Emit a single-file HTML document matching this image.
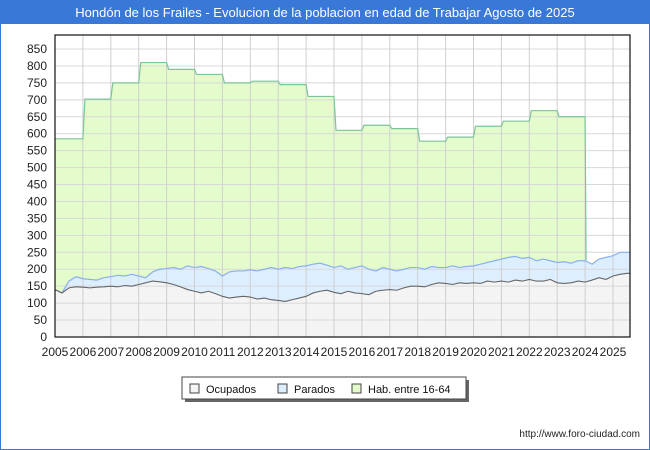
<!DOCTYPE html>
<html><head><meta charset="utf-8"><style>
body{margin:0;background:#fff;font-family:"Liberation Sans","DejaVu Sans",sans-serif}
#wrap{position:relative;width:648px;height:448px;border:1px solid #3a78d8;overflow:hidden}
#title{height:23px;background:#3a78d8;color:#fff;font-size:13px;text-align:center;line-height:23px}
svg{position:absolute;left:-1px;top:-1px}
</style></head><body>
<div id="wrap">
<div id="title">Hondón de los Frailes - Evolucion de la poblacion en edad de Trabajar Agosto de 2025</div>
<svg id="chart" width="650" height="450"></svg>
</div>
<script>
const years=[2005,2006,2007,2008,2009,2010,2011,2012,2013,2014,2015,2016,2017,2018,2019,2020,2021,2022,2023,2024,2025];
const habValues=[585,702,750,810,790,775,750,755,745,710,610,625,615,578,590,622,637,668,650];
const totalValues=[140,130,165,178,172,170,168,175,178,182,180,185,180,175,192,200,202,205,200,210,205,208,202,195,180,192,195,195,198,195,200,205,200,205,202,208,210,215,218,212,205,210,200,205,210,200,195,205,200,195,200,205,205,200,208,205,205,210,205,208,210,215,220,225,230,235,238,232,235,225,230,225,220,222,218,225,225,215,230,235,240,250,250];
const ocupValues=[140,130,145,148,147,145,147,148,150,148,152,150,155,160,165,163,160,155,148,140,135,130,135,128,120,115,118,120,118,112,115,110,108,105,110,115,120,130,135,138,132,128,135,130,128,125,135,138,140,138,145,150,150,148,155,160,158,155,160,158,160,158,165,162,165,162,168,165,170,165,165,170,160,158,160,165,162,168,175,170,180,185,188];
const yTicks=[0,50,100,150,200,250,300,350,400,450,500,550,600,650,700,750,800,850];
const L=55,R=630,T=35,B=337;
const X=t=>L+(t-2005)*27.9;
const Y=v=>B-v*0.3388;
const svg=document.getElementById('chart');
const NS='http://www.w3.org/2000/svg';
function mk(tag,attrs,parent){const e=document.createElementNS(NS,tag);for(const k in attrs)e.setAttribute(k,attrs[k]);(parent||svg).appendChild(e);return e;}
const bg=mk('rect',{x:L,y:T,width:R-L,height:B-T,fill:'#fff'});


const tt=i=>2005+i*0.25;
// hab area
let hp=[];
habValues.forEach((v,i)=>{const x0=X(years[i])+(i?2:0),x1=X(years[i+1]);hp.push([x0,Y(v)],[x1,Y(v)]);});
const endT=years[habValues.length];
let idx=Math.round((endT-2005)/0.25);
hp.push([X(endT)+1,Y(totalValues[idx])]);
const habPath='M'+X(2005)+','+B+' '+hp.map(p=>'L'+p[0]+','+p[1]).join(' ')+' L'+(X(endT)+1)+','+B+' Z';
const ha=mk('path',{d:habPath,fill:'#e4fccc',stroke:'none'});


const tp=totalValues.map((v,i)=>[X(tt(i)),Y(v)]);
const op=ocupValues.map((v,i)=>[X(tt(i)),Y(v)]);
const ta=mk('path',{d:'M'+tp[0][0]+','+B+' '+tp.map(p=>'L'+p[0]+','+p[1]).join(' ')+' L'+R+','+tp[tp.length-1][1]+' L'+R+','+B+' Z',fill:'#ddeeff'});


const oa=mk('path',{d:'M'+op[0][0]+','+B+' '+op.map(p=>'L'+p[0]+','+p[1]).join(' ')+' L'+R+','+op[op.length-1][1]+' L'+R+','+B+' Z',fill:'#f4f4f4'});


// grid
yTicks.forEach(v=>{const g=mk('line',{x1:L,x2:R,y1:Y(v),y2:Y(v),stroke:'#d8d8d8','stroke-width':1});


const t=mk('text',{x:L-8,y:Y(v)+4,'text-anchor':'end','font-size':'12',fill:'#222'});t.textContent=v;

});
years.forEach(y=>{const g=mk('line',{x1:X(y),x2:X(y),y1:T,y2:B,stroke:'#cfcfcf','stroke-width':1});


const t=mk('text',{x:X(y),y:B+19,'text-anchor':'middle','font-size':'12',fill:'#222'});t.textContent=y;

});
const hl=mk('polyline',{points:hp.map(p=>p.join(',')).join(' '),fill:'none',stroke:'#7cc49a','stroke-width':1.2});


const tl=mk('polyline',{points:tp.map(p=>p.join(',')).join(' ')+' '+R+','+tp[tp.length-1][1],fill:'none',stroke:'#8ab0ee','stroke-width':1.2});


const ol=mk('polyline',{points:op.map(p=>p.join(',')).join(' ')+' '+R+','+op[op.length-1][1],fill:'none',stroke:'#666','stroke-width':1.1});


const fr=mk('rect',{x:L,y:T,width:R-L,height:B-T,fill:'none',stroke:'#111','stroke-width':1.2});


// legend
const lg=mk('g',{});


mk('rect',{x:185,y:380,width:284,height:22,fill:'#666'},lg);
mk('rect',{x:182,y:377,width:284,height:22,fill:'#fff',stroke:'#444'},lg);
const items=[['Ocupados','#f4f4f4',190],['Parados','#ddeeff',278],['Hab. entre 16-64','#e4fccc',352]];
items.forEach(it=>{const g=mk('g',{},lg);


mk('rect',{x:it[2],y:384,width:9,height:9,fill:it[1],stroke:'#444'},g);
const t=mk('text',{x:it[2]+16,y:393,'font-size':'11',fill:'#111'},g);t.textContent=it[0];});
const ft=mk('text',{x:640,y:437,'text-anchor':'end','font-size':'10',fill:'#222'});ft.textContent='http://www.foro-ciudad.com';


</script>
</body></html>
